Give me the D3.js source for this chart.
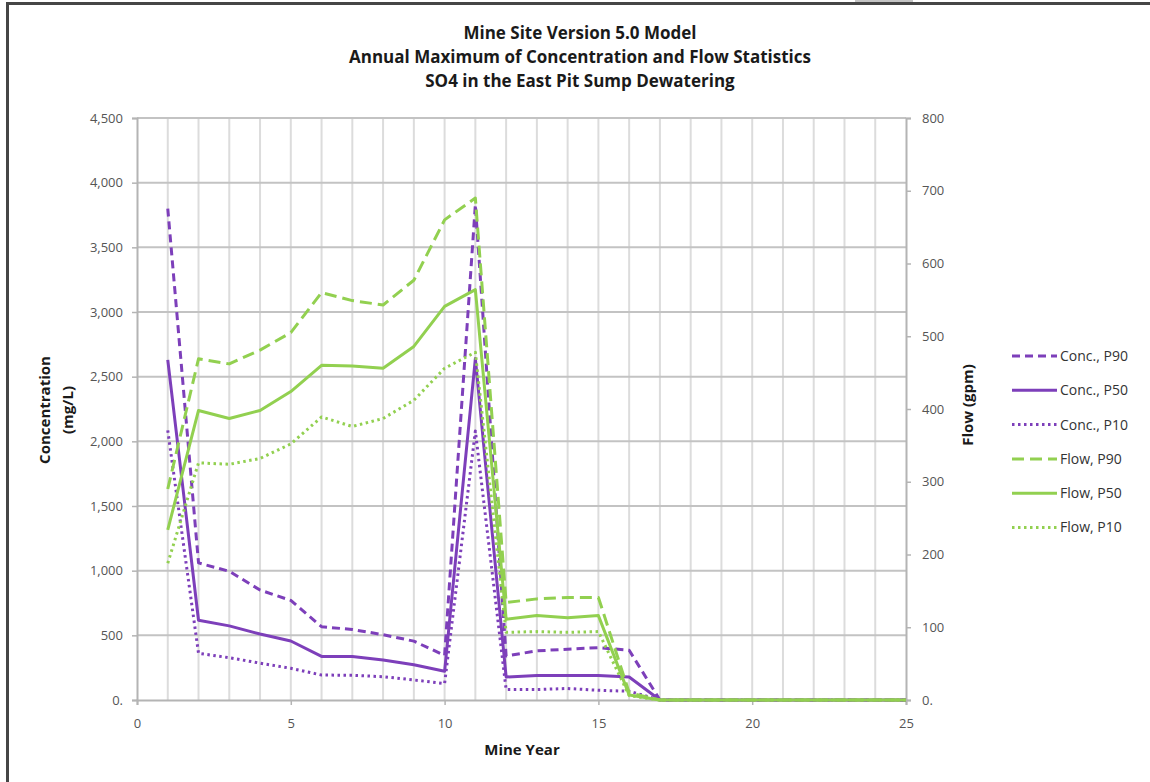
<!DOCTYPE html>
<html>
<head>
<meta charset="utf-8">
<script src="https://cdn.jsdelivr.net/npm/d3@7"></script>
<style>
  html, body { margin: 0; padding: 0; background: #fff; }
  svg { display: block; font-family: "Open Sans", sans-serif; }
</style>
</head>
<body>
<div id="chart"></div>
<script>
// values
const years    = [1, 2, 3, 4, 5, 6, 7, 8, 9, 10, 11, 12, 13, 14, 15, 16, 17, 18, 19, 20, 21, 22, 23, 24, 25];
const concP90  = [3800, 1060, 995, 850, 770, 567, 545, 505, 455, 345, 3830, 340, 380, 393, 405, 385, 0, 0, 0, 0, 0, 0, 0, 0, 0];
const concP50  = [2630, 617, 573, 510, 456, 337, 337, 310, 272, 222, 2640, 178, 190, 190, 190, 178, 0, 0, 0, 0, 0, 0, 0, 0, 0];
const concP10  = [2085, 361, 327, 285, 245, 193, 191, 180, 155, 127, 2080, 81, 81, 89, 75, 68, 0, 0, 0, 0, 0, 0, 0, 0, 0];
const flowP90  = [290, 469, 462, 481, 505, 560, 549, 543, 577, 660, 690, 134, 139, 141, 141, 10, 0, 0, 0, 0, 0, 0, 0, 0, 0];
const flowP50  = [234, 398, 387, 398, 424, 460, 459, 456, 486, 541, 564, 111, 116, 113, 116, 7, 0, 0, 0, 0, 0, 0, 0, 0, 0];
const flowP10  = [188, 326, 324, 332, 352, 389, 376, 387, 412, 456, 478, 93, 94, 93, 94, 6, 0, 0, 0, 0, 0, 0, 0, 0, 0];
const concTicks = [0, 500, 1000, 1500, 2000, 2500, 3000, 3500, 4000, 4500];
const flowTicks = [0, 100, 200, 300, 400, 500, 600, 700, 800];
const yearTicks = [0, 5, 10, 15, 20, 25];
const titleLines = ['Mine Site Version 5.0 Model',
                    'Annual Maximum of Concentration and Flow Statistics',
                    'SO4 in the East Pit Sump Dewatering'];

const purple = '#7d3fba';
const green = '#92d050';

const series = [
   {name: 'Conc., P90', values: concP90, axis: 'left', color: purple, dash: '8,5'},
   {name: 'Conc., P50', values: concP50, axis: 'left', color: purple, dash: null},
   {name: 'Conc., P10', values: concP10, axis: 'left', color: purple, dash: '2.5,3.5'},
   {name: 'Flow, P90', values: flowP90, axis: 'right', color: green, dash: '12,6'},
   {name: 'Flow, P50', values: flowP50, axis: 'right', color: green, dash: null},
   {name: 'Flow, P10', values: flowP10, axis: 'right', color: green, dash: '2.5,3.5'}
];

const width = 1150, height = 782;
const plot = {left: 137, right: 906, top: 118, bottom: 700};

let svg = d3.select('#chart').append('svg')
   .attr('width', width)
   .attr('height', height);

// frame of the screenshot
svg.append('rect').attr('x', 855).attr('y', 0).attr('width', 58).attr('height', 3).attr('fill', '#c4c4c4');
svg.append('line').attr('x1', 6).attr('x2', width).attr('y1', 3.5).attr('y2', 3.5)
   .attr('stroke', '#464646').attr('stroke-width', 3);
svg.append('line').attr('x1', 7.5).attr('x2', 7.5).attr('y1', 2).attr('y2', height)
   .attr('stroke', '#464646').attr('stroke-width', 3);

let x = d3.scaleLinear().domain([0, 25]).range([plot.left, plot.right]);
let yLeft = d3.scaleLinear().domain([0, 4500]).range([plot.bottom, plot.top]);
let yRight = d3.scaleLinear().domain([0, 800]).range([plot.bottom, plot.top]);

// gridlines
svg.append('g').selectAll('line')
   .data(d3.range(1, 25))
   .enter().append('line')
   .attr('x1', d => x(d)).attr('x2', d => x(d))
   .attr('y1', plot.top).attr('y2', plot.bottom)
   .attr('stroke', '#dcdcdc').attr('stroke-width', 2);

svg.append('g').selectAll('line')
   .data(concTicks.filter(d => d > 0))
   .enter().append('line')
   .attr('x1', plot.left).attr('x2', plot.right)
   .attr('y1', d => yLeft(d)).attr('y2', d => yLeft(d))
   .attr('stroke', '#c3c3c3').attr('stroke-width', 2);

const zeroFmt = f => d => d === 0 ? '0.' : f(d);

let leftAxis = d3.axisLeft(yLeft).tickValues(concTicks).tickSize(5).tickPadding(9)
   .tickFormat(zeroFmt(d3.format(',')));
let rightAxis = d3.axisRight(yRight).tickValues(flowTicks).tickSize(5).tickPadding(11)
   .tickFormat(zeroFmt(d3.format('d')));
let bottomAxis = d3.axisBottom(x).tickValues(yearTicks).tickSize(5).tickPadding(14)
   .tickFormat(d3.format('d'));

function styleAxis(g) {
   g.select('.domain').attr('stroke', '#b4b4b4').attr('stroke-width', 2);
   g.selectAll('.tick line').attr('stroke', '#b4b4b4').attr('stroke-width', 1.5);
   g.selectAll('.tick text').attr('fill', '#555')
      .style('font-family', '"Open Sans", sans-serif').style('font-size', '13px');
}

svg.append('g').attr('transform', `translate(${plot.left}, 0)`).call(leftAxis).call(styleAxis);
svg.append('g').attr('transform', `translate(${plot.right}, 0)`).call(rightAxis).call(styleAxis);
svg.append('g').attr('transform', `translate(0, ${plot.bottom})`).call(bottomAxis).call(styleAxis);

// lines
series.forEach(s => {
   let yScale = s.axis === 'left' ? yLeft : yRight;
   let line = d3.line()
      .x((d, i) => x(years[i]))
      .y(d => yScale(d));
   svg.append('path')
      .datum(s.values)
      .attr('d', line)
      .attr('fill', 'none')
      .attr('stroke', s.color)
      .attr('stroke-width', 3)
      .attr('stroke-linejoin', 'round')
      .attr('stroke-dasharray', s.dash);
});

// titles
svg.append('g').selectAll('text')
   .data(titleLines)
   .enter().append('text')
   .attr('x', 580)
   .attr('y', (d, i) => 39 + i * 24)
   .attr('text-anchor', 'middle')
   .style('font-weight', 'bold')
   .style('font-size', '17px')
   .attr('fill', '#1a1a1a')
   .text(d => d);

svg.append('text')
   .attr('transform', 'translate(50, 410) rotate(-90)')
   .attr('text-anchor', 'middle')
   .style('font-weight', 'bold').style('font-size', '15px').attr('fill', '#1a1a1a')
   .text('Concentration');
svg.append('text')
   .attr('transform', 'translate(73, 410) rotate(-90)')
   .attr('text-anchor', 'middle')
   .style('font-weight', 'bold').style('font-size', '15px').attr('fill', '#1a1a1a')
   .text('(mg/L)');
svg.append('text')
   .attr('transform', 'translate(973, 405) rotate(-90)')
   .attr('text-anchor', 'middle')
   .style('font-weight', 'bold').style('font-size', '15px').attr('fill', '#1a1a1a')
   .text('Flow (gpm)');
svg.append('text')
   .attr('x', 522).attr('y', 755)
   .attr('text-anchor', 'middle')
   .style('font-weight', 'bold').style('font-size', '15px').attr('fill', '#1a1a1a')
   .text('Mine Year');

// legend
let legend = svg.selectAll('.legend')
   .data(series)
   .enter().append('g')
   .attr('class', 'legend')
   .attr('transform', (d, i) => `translate(1012, ${356 + i * 34.3})`);

legend.append('line')
   .attr('x1', 0).attr('x2', 45)
   .attr('stroke', d => d.color)
   .attr('stroke-width', 3)
   .attr('stroke-dasharray', d => d.dash);

legend.append('text')
   .attr('x', 48)
   .attr('dy', '.35em')
   .style('font-size', '14px')
   .attr('fill', '#333')
   .text(d => d.name);
</script>
</body>
</html>
